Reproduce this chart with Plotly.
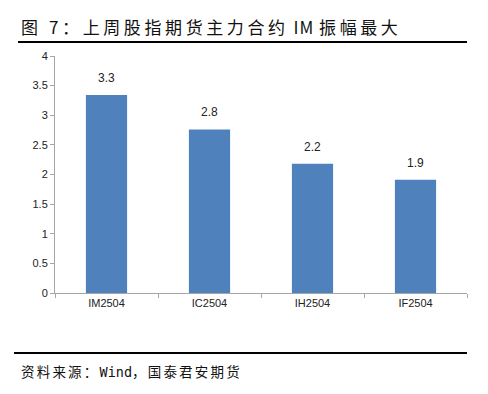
import plotly.graph_objects as go

categories = ["IM2504", "IC2504", "IH2504", "IF2504"]
values = [3.34, 2.76, 2.18, 1.91]
labels = ["3.3", "2.8", "2.2", "1.9"]
y_ticks = [0, 0.5, 1, 1.5, 2, 2.5, 3, 3.5, 4]
y_ticktext = ["0", "0.5", "1", "1.5", "2", "2.5", "3", "3.5", "4"]

fig = go.Figure()
fig.add_trace(go.Bar(x=categories, y=values, marker_color="#4F81BD",
                     marker_line_width=0, width=0.4, hoverinfo="skip"))

for c, v, t in zip(categories, values, labels):
    fig.add_annotation(x=c, y=v, text=t, showarrow=False, yshift=17,
                       font=dict(size=12, color="#222222",
                                 family="Liberation Sans, Arial"))

fig.update_layout(
    width=488, height=394,
    margin=dict(l=55, r=21, t=56, b=101),
    paper_bgcolor="white", plot_bgcolor="white",
    showlegend=False,
    font=dict(family="Liberation Sans, Arial", size=11, color="#222222"),
    xaxis=dict(type="category", showline=True, linecolor="#A6A6A6",
               linewidth=1, ticks="outside", tickson="boundaries",
               ticklen=4, tickcolor="#A6A6A6", showgrid=False,
               tickfont=dict(size=11, color="#222222")),
    yaxis=dict(range=[0, 4], tickvals=y_ticks, ticktext=y_ticktext,
               showline=True, linecolor="#A6A6A6", linewidth=1,
               ticks="outside", ticklen=4, tickcolor="#A6A6A6",
               showgrid=False, zeroline=False,
               tickfont=dict(size=11, color="#222222")),
)

fig.add_annotation(xref="paper", yref="paper", x=-36 / 412, y=1 + 29 / 237,
                   xanchor="left", yanchor="middle", showarrow=False,
                   text='<span style="letter-spacing:3.6px">图 7：上周股指期货主力合约</span>'
                        '<span style="letter-spacing:1px"> IM </span>'
                        '<span style="letter-spacing:3.6px">振幅最大</span>',
                   font=dict(size=17, color="#111111",
                             family="Noto Sans CJK SC"))
fig.add_shape(type="line", xref="paper", yref="paper",
              x0=-37 / 412, x1=1, y0=1 + 14 / 237, y1=1 + 14 / 237,
              line=dict(color="black", width=2))
fig.add_shape(type="line", xref="paper", yref="paper",
              x0=-41 / 412, x1=1, y0=-60 / 237, y1=-60 / 237,
              line=dict(color="black", width=2))
fig.add_annotation(xref="paper", yref="paper", x=-36 / 412, y=-79 / 237,
                   xanchor="left", yanchor="middle", showarrow=False,
                   text='<span style="letter-spacing:2.2px">资料来源：</span>Wind<span style="letter-spacing:2.2px">，国泰君安期货</span>',
                   font=dict(size=13.5, color="#111111",
                             family="DejaVu Sans Mono, Noto Sans CJK SC"))

fig.write_html("out.html")
